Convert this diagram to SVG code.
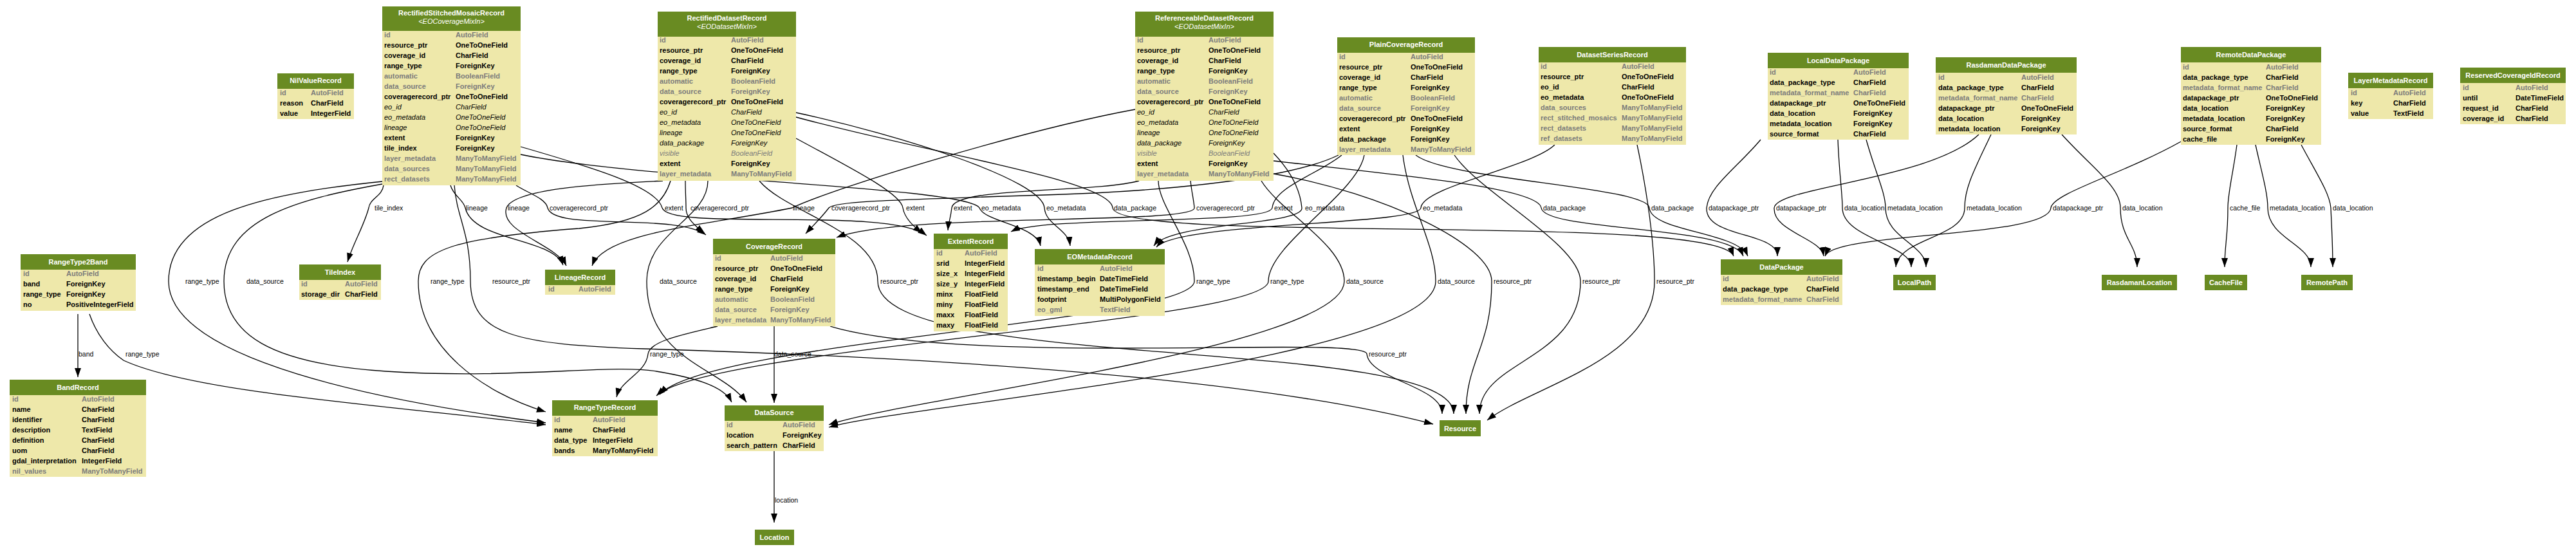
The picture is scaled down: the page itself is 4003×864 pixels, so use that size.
<svg xmlns="http://www.w3.org/2000/svg" width="4003" height="864" viewBox="0 0 4003 864">
<style>
text{font-family:"Liberation Sans",Arial,Helvetica,sans-serif;font-size:11px;fill:#000}
.h{font-weight:bold;fill:#fff;text-anchor:middle}
.s{font-style:italic;fill:#fff;text-anchor:middle}
.b{font-weight:bold}
.g{font-weight:bold;fill:#7b7b7b}
.i{font-style:italic}
.gi{font-style:italic;fill:#7b7b7b}
.lb{font-size:10.5px}
.bd{fill:#eee8aa}
.hd{fill:#698b22}
.e{fill:none;stroke:#000;stroke-width:1.3;marker-end:url(#a)}
</style>
<defs>
<marker id="a" viewBox="0 0 14 10" refX="14" refY="5" markerWidth="14" markerHeight="10" markerUnits="userSpaceOnUse" orient="auto"><path d="M0,0L14,5L0,10z" fill="#000"/></marker>
</defs>
<rect width="4003" height="864" fill="#fff"/>
<g id="connectors">
<path class="e" d="M596,288 C594,305 575,308 573,323 C566,350 548,380 540,407"/>
<path class="e" d="M700,288 C705,305 720,310 723,323 C735,375 860,370 875,412"/>
<path class="e" d="M802,288 C820,300 848,308 851,323 C860,360 1050,330 1097,365"/>
<path class="e" d="M809,228 C920,260 1020,290 1029,323 C1040,360 1380,320 1440,366"/>
<path class="e" d="M809,240 C1000,280 1500,290 1522,323 C1530,345 1610,350 1617,382"/>
<path class="e" d="M594,282 C420,300 262,330 262,437 C262,560 600,625 848,657"/>
<path class="e" d="M594,286 C460,310 348,340 348,437 C348,520 420,565 600,577 C800,590 950,565 1020,577 C1080,587 1125,600 1137,625"/>
<path class="e" d="M706,288 C710,340 731,360 731,437 C732,520 800,535 1000,542 C1600,560 2000,600 2227,659"/>
<path class="e" d="M1030,281 C960,285 800,290 787,323 C775,360 865,380 880,413"/>
<path class="e" d="M1065,281 C1065,300 1066,310 1066,323 C1066,340 1080,350 1094,363"/>
<path class="e" d="M1042,281 C1030,320 1000,345 900,355 C700,370 650,390 650,437 C650,540 750,610 848,640"/>
<path class="e" d="M1100,281 C1100,340 1005,360 1005,437 C1005,560 1120,570 1160,625"/>
<path class="e" d="M1180,281 C1220,330 1364,360 1364,437 C1364,580 2259,520 2259,643"/>
<path class="e" d="M1237,215 C1320,260 1400,300 1403,323 C1406,340 1420,352 1433,362"/>
<path class="e" d="M1237,175 C1400,210 1620,280 1623,323 C1625,350 1660,355 1663,382"/>
<path class="e" d="M1237,182 C1450,240 1726,280 1729,323 C1735,380 2670,330 2694,398"/>
<path class="e" d="M1764,170 C1600,200 1300,290 1231,323 C1100,350 940,360 920,413"/>
<path class="e" d="M1770,281 C1700,300 1482,290 1479,323 C1477,340 1474,345 1473,358"/>
<path class="e" d="M1850,281 C1852,300 1855,310 1856,323 C1856,350 1400,330 1300,369"/>
<path class="e" d="M1979,238 C2000,260 2020,290 2023,323 C2026,350 1820,345 1793,382"/>
<path class="e" d="M1979,250 C2150,270 2390,290 2395,323 C2400,360 2690,350 2709,398"/>
<path class="e" d="M1800,281 C1800,320 1856,380 1856,437 C1856,500 1100,530 1025,613"/>
<path class="e" d="M1960,281 C1990,330 2089,380 2089,437 C2089,540 1400,620 1288,660"/>
<path class="e" d="M1979,270 C2150,300 2318,380 2318,437 C2318,540 2278,560 2278,643"/>
<path class="e" d="M2080,241 C2000,280 1800,295 1700,300 C1450,310 1300,310 1288,323 C1275,340 1262,352 1252,363"/>
<path class="e" d="M2085,241 C2050,270 1980,290 1977,323 C1974,350 1620,335 1571,360"/>
<path class="e" d="M2200,241 C2250,280 2560,290 2563,323 C2566,360 2700,360 2716,398"/>
<path class="e" d="M2120,241 C2110,300 1971,380 1971,437 C1971,500 1100,540 1020,615"/>
<path class="e" d="M2180,241 C2190,320 2231,380 2231,437 C2231,560 1400,630 1288,664"/>
<path class="e" d="M2260,241 C2300,300 2456,380 2456,437 C2456,560 2299,560 2299,643"/>
<path class="e" d="M2416,225 C2380,260 2210,290 2208,323 C2206,350 1830,345 1797,384"/>
<path class="e" d="M2544,225 C2560,300 2571,380 2571,437 C2571,560 2380,600 2311,653"/>
<path class="e" d="M1115,507 C1060,520 1010,530 1007,550 C1004,580 965,590 958,617"/>
<path class="e" d="M1203,507 L1203,626"/>
<path class="e" d="M1290,507 C1500,570 2120,520 2124,550 C2128,590 2241,600 2241,643"/>
<path class="e" d="M1203,701 L1203,812"/>
<path class="e" d="M121,488 L121,586"/>
<path class="e" d="M139,488 C150,520 170,545 192,560 C300,610 600,630 848,660"/>
<path class="e" d="M2736,217 C2700,260 2655,290 2652,323 C2650,370 2762,360 2762,398"/>
<path class="e" d="M2856,217 C2858,270 2863,300 2863,323 C2863,370 2970,380 2970,415"/>
<path class="e" d="M2900,217 C2915,270 2930,300 2930,323 C2930,370 2993,380 2993,415"/>
<path class="e" d="M3075,209 C3000,280 2760,290 2757,323 C2755,360 2830,370 2834,398"/>
<path class="e" d="M3094,209 C3070,260 3053,290 3053,323 C3053,370 2950,370 2946,415"/>
<path class="e" d="M3204,209 C3250,260 3295,290 3295,323 C3295,370 3321,380 3321,415"/>
<path class="e" d="M3389,220 C3300,270 3190,300 3187,323 C3184,370 2850,360 2836,398"/>
<path class="e" d="M3476,225 C3470,270 3462,300 3462,323 C3462,370 3457,380 3457,415"/>
<path class="e" d="M3505,225 C3515,270 3524,300 3524,323 C3524,370 3591,380 3591,415"/>
<path class="e" d="M3576,225 C3600,270 3620,300 3622,323 C3624,370 3625,380 3625,415"/>
<text class="lb" x="582" y="327">tile_index</text>
<text class="lb" x="724" y="327">lineage</text>
<text class="lb" x="789" y="327">lineage</text>
<text class="lb" x="854" y="327">coveragerecord_ptr</text>
<text class="lb" x="1033" y="327">extent</text>
<text class="lb" x="1073" y="327">coveragerecord_ptr</text>
<text class="lb" x="1232" y="327">lineage</text>
<text class="lb" x="1292" y="327">coveragerecord_ptr</text>
<text class="lb" x="1408" y="327">extent</text>
<text class="lb" x="1482" y="327">extent</text>
<text class="lb" x="1525" y="327">eo_metadata</text>
<text class="lb" x="1626" y="327">eo_metadata</text>
<text class="lb" x="1731" y="327">data_package</text>
<text class="lb" x="1859" y="327">coveragerecord_ptr</text>
<text class="lb" x="1980" y="327">extent</text>
<text class="lb" x="2028" y="327">eo_metadata</text>
<text class="lb" x="2211" y="327">eo_metadata</text>
<text class="lb" x="2398" y="327">data_package</text>
<text class="lb" x="2566" y="327">data_package</text>
<text class="lb" x="2655" y="327">datapackage_ptr</text>
<text class="lb" x="2760" y="327">datapackage_ptr</text>
<text class="lb" x="2866" y="327">data_location</text>
<text class="lb" x="2933" y="327">metadata_location</text>
<text class="lb" x="3056" y="327">metadata_location</text>
<text class="lb" x="3190" y="327">datapackage_ptr</text>
<text class="lb" x="3298" y="327">data_location</text>
<text class="lb" x="3465" y="327">cache_file</text>
<text class="lb" x="3527" y="327">metadata_location</text>
<text class="lb" x="3625" y="327">data_location</text>
<text class="lb" x="288" y="441">range_type</text>
<text class="lb" x="383" y="441">data_source</text>
<text class="lb" x="669" y="441">range_type</text>
<text class="lb" x="765" y="441">resource_ptr</text>
<text class="lb" x="1025" y="441">data_source</text>
<text class="lb" x="1368" y="441">resource_ptr</text>
<text class="lb" x="1859" y="441">range_type</text>
<text class="lb" x="1974" y="441">range_type</text>
<text class="lb" x="2092" y="441">data_source</text>
<text class="lb" x="2234" y="441">data_source</text>
<text class="lb" x="2321" y="441">resource_ptr</text>
<text class="lb" x="2459" y="441">resource_ptr</text>
<text class="lb" x="2574" y="441">resource_ptr</text>
<text class="lb" x="122" y="554">band</text>
<text class="lb" x="195" y="554">range_type</text>
<text class="lb" x="1010" y="554">range_type</text>
<text class="lb" x="1203" y="554">data_source</text>
<text class="lb" x="2127" y="554">resource_ptr</text>
<text class="lb" x="1204" y="781">location</text>
</g>
<g id="NilValueRecord">
<rect class="bd" x="431" y="114" width="119" height="71"/><rect class="hd" x="431" y="114" width="119" height="24"/>
<text class="h" x="490.5" y="129">NilValueRecord</text>
<text class="g" x="435" y="148">id</text><text class="g" x="483" y="148">AutoField</text>
<text class="b" x="435" y="164">reason</text><text class="b" x="483" y="164">CharField</text>
<text class="b" x="435" y="180">value</text><text class="b" x="483" y="180">IntegerField</text>
</g>
<g id="RectifiedStitchedMosaicRecord">
<rect class="bd" x="594" y="10" width="215" height="278"/><rect class="hd" x="594" y="10" width="215" height="38"/>
<text class="h" x="701.5" y="24">RectifiedStitchedMosaicRecord</text>
<text class="s" x="701.5" y="37">&lt;EOCoverageMixIn&gt;</text>
<text class="g" x="597" y="58">id</text><text class="g" x="708" y="58">AutoField</text>
<text class="b" x="597" y="74">resource_ptr</text><text class="b" x="708" y="74">OneToOneField</text>
<text class="b" x="597" y="90">coverage_id</text><text class="b" x="708" y="90">CharField</text>
<text class="b" x="597" y="106">range_type</text><text class="b" x="708" y="106">ForeignKey</text>
<text class="g" x="597" y="122">automatic</text><text class="g" x="708" y="122">BooleanField</text>
<text class="g" x="597" y="138">data_source</text><text class="g" x="708" y="138">ForeignKey</text>
<text class="b" x="597" y="154">coveragerecord_ptr</text><text class="b" x="708" y="154">OneToOneField</text>
<text class="i" x="597" y="170">eo_id</text><text class="i" x="708" y="170">CharField</text>
<text class="i" x="597" y="186">eo_metadata</text><text class="i" x="708" y="186">OneToOneField</text>
<text class="i" x="597" y="202">lineage</text><text class="i" x="708" y="202">OneToOneField</text>
<text class="b" x="597" y="218">extent</text><text class="b" x="708" y="218">ForeignKey</text>
<text class="b" x="597" y="234">tile_index</text><text class="b" x="708" y="234">ForeignKey</text>
<text class="g" x="597" y="250">layer_metadata</text><text class="g" x="708" y="250">ManyToManyField</text>
<text class="g" x="597" y="266">data_sources</text><text class="g" x="708" y="266">ManyToManyField</text>
<text class="g" x="597" y="282">rect_datasets</text><text class="g" x="708" y="282">ManyToManyField</text>
</g>
<g id="RectifiedDatasetRecord">
<rect class="bd" x="1022" y="18" width="215" height="263"/><rect class="hd" x="1022" y="18" width="215" height="39"/>
<text class="h" x="1129.5" y="32">RectifiedDatasetRecord</text>
<text class="s" x="1129.5" y="45">&lt;EODatasetMixIn&gt;</text>
<text class="g" x="1025" y="66">id</text><text class="g" x="1136" y="66">AutoField</text>
<text class="b" x="1025" y="82">resource_ptr</text><text class="b" x="1136" y="82">OneToOneField</text>
<text class="b" x="1025" y="98">coverage_id</text><text class="b" x="1136" y="98">CharField</text>
<text class="b" x="1025" y="114">range_type</text><text class="b" x="1136" y="114">ForeignKey</text>
<text class="g" x="1025" y="130">automatic</text><text class="g" x="1136" y="130">BooleanField</text>
<text class="g" x="1025" y="146">data_source</text><text class="g" x="1136" y="146">ForeignKey</text>
<text class="b" x="1025" y="162">coveragerecord_ptr</text><text class="b" x="1136" y="162">OneToOneField</text>
<text class="i" x="1025" y="178">eo_id</text><text class="i" x="1136" y="178">CharField</text>
<text class="i" x="1025" y="194">eo_metadata</text><text class="i" x="1136" y="194">OneToOneField</text>
<text class="i" x="1025" y="210">lineage</text><text class="i" x="1136" y="210">OneToOneField</text>
<text class="i" x="1025" y="226">data_package</text><text class="i" x="1136" y="226">ForeignKey</text>
<text class="gi" x="1025" y="242">visible</text><text class="gi" x="1136" y="242">BooleanField</text>
<text class="b" x="1025" y="258">extent</text><text class="b" x="1136" y="258">ForeignKey</text>
<text class="g" x="1025" y="274">layer_metadata</text><text class="g" x="1136" y="274">ManyToManyField</text>
</g>
<g id="ReferenceableDatasetRecord">
<rect class="bd" x="1764" y="18" width="215" height="263"/><rect class="hd" x="1764" y="18" width="215" height="39"/>
<text class="h" x="1871.5" y="32">ReferenceableDatasetRecord</text>
<text class="s" x="1871.5" y="45">&lt;EODatasetMixIn&gt;</text>
<text class="g" x="1767" y="66">id</text><text class="g" x="1878" y="66">AutoField</text>
<text class="b" x="1767" y="82">resource_ptr</text><text class="b" x="1878" y="82">OneToOneField</text>
<text class="b" x="1767" y="98">coverage_id</text><text class="b" x="1878" y="98">CharField</text>
<text class="b" x="1767" y="114">range_type</text><text class="b" x="1878" y="114">ForeignKey</text>
<text class="g" x="1767" y="130">automatic</text><text class="g" x="1878" y="130">BooleanField</text>
<text class="g" x="1767" y="146">data_source</text><text class="g" x="1878" y="146">ForeignKey</text>
<text class="b" x="1767" y="162">coveragerecord_ptr</text><text class="b" x="1878" y="162">OneToOneField</text>
<text class="i" x="1767" y="178">eo_id</text><text class="i" x="1878" y="178">CharField</text>
<text class="i" x="1767" y="194">eo_metadata</text><text class="i" x="1878" y="194">OneToOneField</text>
<text class="i" x="1767" y="210">lineage</text><text class="i" x="1878" y="210">OneToOneField</text>
<text class="i" x="1767" y="226">data_package</text><text class="i" x="1878" y="226">ForeignKey</text>
<text class="gi" x="1767" y="242">visible</text><text class="gi" x="1878" y="242">BooleanField</text>
<text class="b" x="1767" y="258">extent</text><text class="b" x="1878" y="258">ForeignKey</text>
<text class="g" x="1767" y="274">layer_metadata</text><text class="g" x="1878" y="274">ManyToManyField</text>
</g>
<g id="PlainCoverageRecord">
<rect class="bd" x="2078" y="58" width="214" height="183"/><rect class="hd" x="2078" y="58" width="214" height="24"/>
<text class="h" x="2185" y="73">PlainCoverageRecord</text>
<text class="g" x="2081" y="92">id</text><text class="g" x="2192" y="92">AutoField</text>
<text class="b" x="2081" y="108">resource_ptr</text><text class="b" x="2192" y="108">OneToOneField</text>
<text class="b" x="2081" y="124">coverage_id</text><text class="b" x="2192" y="124">CharField</text>
<text class="b" x="2081" y="140">range_type</text><text class="b" x="2192" y="140">ForeignKey</text>
<text class="g" x="2081" y="156">automatic</text><text class="g" x="2192" y="156">BooleanField</text>
<text class="g" x="2081" y="172">data_source</text><text class="g" x="2192" y="172">ForeignKey</text>
<text class="b" x="2081" y="188">coveragerecord_ptr</text><text class="b" x="2192" y="188">OneToOneField</text>
<text class="b" x="2081" y="204">extent</text><text class="b" x="2192" y="204">ForeignKey</text>
<text class="b" x="2081" y="220">data_package</text><text class="b" x="2192" y="220">ForeignKey</text>
<text class="g" x="2081" y="236">layer_metadata</text><text class="g" x="2192" y="236">ManyToManyField</text>
</g>
<g id="DatasetSeriesRecord">
<rect class="bd" x="2391" y="73" width="229" height="152"/><rect class="hd" x="2391" y="73" width="229" height="24"/>
<text class="h" x="2505.5" y="89">DatasetSeriesRecord</text>
<text class="g" x="2394" y="107">id</text><text class="g" x="2520" y="107">AutoField</text>
<text class="b" x="2394" y="123">resource_ptr</text><text class="b" x="2520" y="123">OneToOneField</text>
<text class="b" x="2394" y="139">eo_id</text><text class="b" x="2520" y="139">CharField</text>
<text class="b" x="2394" y="155">eo_metadata</text><text class="b" x="2520" y="155">OneToOneField</text>
<text class="g" x="2394" y="171">data_sources</text><text class="g" x="2520" y="171">ManyToManyField</text>
<text class="g" x="2394" y="187">rect_stitched_mosaics</text><text class="g" x="2520" y="187">ManyToManyField</text>
<text class="g" x="2394" y="203">rect_datasets</text><text class="g" x="2520" y="203">ManyToManyField</text>
<text class="g" x="2394" y="219">ref_datasets</text><text class="g" x="2520" y="219">ManyToManyField</text>
</g>
<g id="LocalDataPackage">
<rect class="bd" x="2747" y="82" width="219" height="135"/><rect class="hd" x="2747" y="82" width="219" height="24"/>
<text class="h" x="2856.5" y="98">LocalDataPackage</text>
<text class="g" x="2750" y="116">id</text><text class="g" x="2880" y="116">AutoField</text>
<text class="b" x="2750" y="132">data_package_type</text><text class="b" x="2880" y="132">CharField</text>
<text class="g" x="2750" y="148">metadata_format_name</text><text class="g" x="2880" y="148">CharField</text>
<text class="b" x="2750" y="164">datapackage_ptr</text><text class="b" x="2880" y="164">OneToOneField</text>
<text class="b" x="2750" y="180">data_location</text><text class="b" x="2880" y="180">ForeignKey</text>
<text class="b" x="2750" y="196">metadata_location</text><text class="b" x="2880" y="196">ForeignKey</text>
<text class="b" x="2750" y="212">source_format</text><text class="b" x="2880" y="212">CharField</text>
</g>
<g id="RasdamanDataPackage">
<rect class="bd" x="3008" y="89" width="219" height="120"/><rect class="hd" x="3008" y="89" width="219" height="24"/>
<text class="h" x="3117.5" y="105">RasdamanDataPackage</text>
<text class="g" x="3012" y="124">id</text><text class="g" x="3141" y="124">AutoField</text>
<text class="b" x="3012" y="140">data_package_type</text><text class="b" x="3141" y="140">CharField</text>
<text class="g" x="3012" y="156">metadata_format_name</text><text class="g" x="3141" y="156">CharField</text>
<text class="b" x="3012" y="172">datapackage_ptr</text><text class="b" x="3141" y="172">OneToOneField</text>
<text class="b" x="3012" y="188">data_location</text><text class="b" x="3141" y="188">ForeignKey</text>
<text class="b" x="3012" y="204">metadata_location</text><text class="b" x="3141" y="204">ForeignKey</text>
</g>
<g id="RemoteDataPackage">
<rect class="bd" x="3389" y="73" width="218" height="152"/><rect class="hd" x="3389" y="73" width="218" height="24"/>
<text class="h" x="3498" y="89">RemoteDataPackage</text>
<text class="g" x="3392" y="108">id</text><text class="g" x="3521" y="108">AutoField</text>
<text class="b" x="3392" y="124">data_package_type</text><text class="b" x="3521" y="124">CharField</text>
<text class="g" x="3392" y="140">metadata_format_name</text><text class="g" x="3521" y="140">CharField</text>
<text class="b" x="3392" y="156">datapackage_ptr</text><text class="b" x="3521" y="156">OneToOneField</text>
<text class="b" x="3392" y="172">data_location</text><text class="b" x="3521" y="172">ForeignKey</text>
<text class="b" x="3392" y="188">metadata_location</text><text class="b" x="3521" y="188">ForeignKey</text>
<text class="b" x="3392" y="204">source_format</text><text class="b" x="3521" y="204">CharField</text>
<text class="b" x="3392" y="220">cache_file</text><text class="b" x="3521" y="220">ForeignKey</text>
</g>
<g id="LayerMetadataRecord">
<rect class="bd" x="3649" y="113" width="132" height="72"/><rect class="hd" x="3649" y="113" width="132" height="24"/>
<text class="h" x="3715" y="129">LayerMetadataRecord</text>
<text class="g" x="3653" y="148">id</text><text class="g" x="3719" y="148">AutoField</text>
<text class="b" x="3653" y="164">key</text><text class="b" x="3719" y="164">CharField</text>
<text class="b" x="3653" y="180">value</text><text class="b" x="3719" y="180">TextField</text>
</g>
<g id="ReservedCoverageIdRecord">
<rect class="bd" x="3823" y="105" width="164" height="88"/><rect class="hd" x="3823" y="105" width="164" height="24"/>
<text class="h" x="3905" y="121">ReservedCoverageIdRecord</text>
<text class="g" x="3827" y="140">id</text><text class="g" x="3909" y="140">AutoField</text>
<text class="b" x="3827" y="156">until</text><text class="b" x="3909" y="156">DateTimeField</text>
<text class="b" x="3827" y="172">request_id</text><text class="b" x="3909" y="172">CharField</text>
<text class="b" x="3827" y="188">coverage_id</text><text class="b" x="3909" y="188">CharField</text>
</g>
<g id="RangeType2Band">
<rect class="bd" x="32" y="395" width="179" height="88"/><rect class="hd" x="32" y="395" width="179" height="24"/>
<text class="h" x="121.5" y="411">RangeType2Band</text>
<text class="g" x="36" y="429">id</text><text class="g" x="103" y="429">AutoField</text>
<text class="b" x="36" y="445">band</text><text class="b" x="103" y="445">ForeignKey</text>
<text class="b" x="36" y="461">range_type</text><text class="b" x="103" y="461">ForeignKey</text>
<text class="b" x="36" y="477">no</text><text class="b" x="103" y="477">PositiveIntegerField</text>
</g>
<g id="BandRecord">
<rect class="bd" x="15" y="590" width="212" height="151"/><rect class="hd" x="15" y="590" width="212" height="24"/>
<text class="h" x="121" y="606">BandRecord</text>
<text class="g" x="19" y="624">id</text><text class="g" x="127" y="624">AutoField</text>
<text class="b" x="19" y="640">name</text><text class="b" x="127" y="640">CharField</text>
<text class="b" x="19" y="656">identifier</text><text class="b" x="127" y="656">CharField</text>
<text class="b" x="19" y="672">description</text><text class="b" x="127" y="672">TextField</text>
<text class="b" x="19" y="688">definition</text><text class="b" x="127" y="688">CharField</text>
<text class="b" x="19" y="704">uom</text><text class="b" x="127" y="704">CharField</text>
<text class="b" x="19" y="720">gdal_interpretation</text><text class="b" x="127" y="720">IntegerField</text>
<text class="g" x="19" y="736">nil_values</text><text class="g" x="127" y="736">ManyToManyField</text>
</g>
<g id="TileIndex">
<rect class="bd" x="465" y="411" width="127" height="55"/><rect class="hd" x="465" y="411" width="127" height="24"/>
<text class="h" x="528.5" y="427">TileIndex</text>
<text class="g" x="468" y="445">id</text><text class="g" x="536" y="445">AutoField</text>
<text class="b" x="468" y="461">storage_dir</text><text class="b" x="536" y="461">CharField</text>
</g>
<g id="LineageRecord">
<rect class="bd" x="847" y="419" width="109" height="39"/><rect class="hd" x="847" y="419" width="109" height="24"/>
<text class="h" x="901.5" y="435">LineageRecord</text>
<text class="g" x="852" y="453">id</text><text class="g" x="899" y="453">AutoField</text>
</g>
<g id="CoverageRecord">
<rect class="bd" x="1108" y="371" width="190" height="136"/><rect class="hd" x="1108" y="371" width="190" height="24"/>
<text class="h" x="1203" y="387">CoverageRecord</text>
<text class="g" x="1111" y="405">id</text><text class="g" x="1197" y="405">AutoField</text>
<text class="b" x="1111" y="421">resource_ptr</text><text class="b" x="1197" y="421">OneToOneField</text>
<text class="b" x="1111" y="437">coverage_id</text><text class="b" x="1197" y="437">CharField</text>
<text class="b" x="1111" y="453">range_type</text><text class="b" x="1197" y="453">ForeignKey</text>
<text class="g" x="1111" y="469">automatic</text><text class="g" x="1197" y="469">BooleanField</text>
<text class="g" x="1111" y="485">data_source</text><text class="g" x="1197" y="485">ForeignKey</text>
<text class="g" x="1111" y="501">layer_metadata</text><text class="g" x="1197" y="501">ManyToManyField</text>
</g>
<g id="ExtentRecord">
<rect class="bd" x="1451" y="363" width="115" height="152"/><rect class="hd" x="1451" y="363" width="115" height="24"/>
<text class="h" x="1508.5" y="379">ExtentRecord</text>
<text class="g" x="1455" y="397">id</text><text class="g" x="1499" y="397">AutoField</text>
<text class="b" x="1455" y="413">srid</text><text class="b" x="1499" y="413">IntegerField</text>
<text class="b" x="1455" y="429">size_x</text><text class="b" x="1499" y="429">IntegerField</text>
<text class="b" x="1455" y="445">size_y</text><text class="b" x="1499" y="445">IntegerField</text>
<text class="b" x="1455" y="461">minx</text><text class="b" x="1499" y="461">FloatField</text>
<text class="b" x="1455" y="477">miny</text><text class="b" x="1499" y="477">FloatField</text>
<text class="b" x="1455" y="493">maxx</text><text class="b" x="1499" y="493">FloatField</text>
<text class="b" x="1455" y="509">maxy</text><text class="b" x="1499" y="509">FloatField</text>
</g>
<g id="EOMetadataRecord">
<rect class="bd" x="1608" y="387" width="202" height="104"/><rect class="hd" x="1608" y="387" width="202" height="24"/>
<text class="h" x="1709" y="403">EOMetadataRecord</text>
<text class="g" x="1612" y="421">id</text><text class="g" x="1709" y="421">AutoField</text>
<text class="b" x="1612" y="437">timestamp_begin</text><text class="b" x="1709" y="437">DateTimeField</text>
<text class="b" x="1612" y="453">timestamp_end</text><text class="b" x="1709" y="453">DateTimeField</text>
<text class="b" x="1612" y="469">footprint</text><text class="b" x="1709" y="469">MultiPolygonField</text>
<text class="g" x="1612" y="485">eo_gml</text><text class="g" x="1709" y="485">TextField</text>
</g>
<g id="DataPackage">
<rect class="bd" x="2674" y="403" width="189" height="71"/><rect class="hd" x="2674" y="403" width="189" height="24"/>
<text class="h" x="2768.5" y="419">DataPackage</text>
<text class="g" x="2677" y="437">id</text><text class="g" x="2807" y="437">AutoField</text>
<text class="b" x="2677" y="453">data_package_type</text><text class="b" x="2807" y="453">CharField</text>
<text class="g" x="2677" y="469">metadata_format_name</text><text class="g" x="2807" y="469">CharField</text>
</g>
<g id="RangeTypeRecord">
<rect class="bd" x="858" y="622" width="164" height="87"/><rect class="hd" x="858" y="622" width="164" height="24"/>
<text class="h" x="940" y="637">RangeTypeRecord</text>
<text class="g" x="861" y="656">id</text><text class="g" x="921" y="656">AutoField</text>
<text class="b" x="861" y="672">name</text><text class="b" x="921" y="672">CharField</text>
<text class="b" x="861" y="688">data_type</text><text class="b" x="921" y="688">IntegerField</text>
<text class="b" x="861" y="704">bands</text><text class="b" x="921" y="704">ManyToManyField</text>
</g>
<g id="DataSource">
<rect class="bd" x="1126" y="630" width="154" height="71"/><rect class="hd" x="1126" y="630" width="154" height="24"/>
<text class="h" x="1203" y="645">DataSource</text>
<text class="g" x="1129" y="664">id</text><text class="g" x="1216" y="664">AutoField</text>
<text class="b" x="1129" y="680">location</text><text class="b" x="1216" y="680">ForeignKey</text>
<text class="b" x="1129" y="696">search_pattern</text><text class="b" x="1216" y="696">CharField</text>
</g>
<g id="LocalPath"><rect class="hd" x="2942" y="427" width="66" height="24"/><text class="h" x="2975" y="443">LocalPath</text></g>
<g id="RasdamanLocation"><rect class="hd" x="3266" y="427" width="117" height="24"/><text class="h" x="3324.5" y="443">RasdamanLocation</text></g>
<g id="CacheFile"><rect class="hd" x="3426" y="427" width="66" height="24"/><text class="h" x="3459" y="443">CacheFile</text></g>
<g id="RemotePath"><rect class="hd" x="3576" y="427" width="80" height="24"/><text class="h" x="3616" y="443">RemotePath</text></g>
<g id="Resource"><rect class="hd" x="2237" y="653" width="64" height="25"/><text class="h" x="2269" y="670">Resource</text></g>
<g id="Location"><rect class="hd" x="1173" y="823" width="61" height="24"/><text class="h" x="1203.5" y="839">Location</text></g>
</svg>
